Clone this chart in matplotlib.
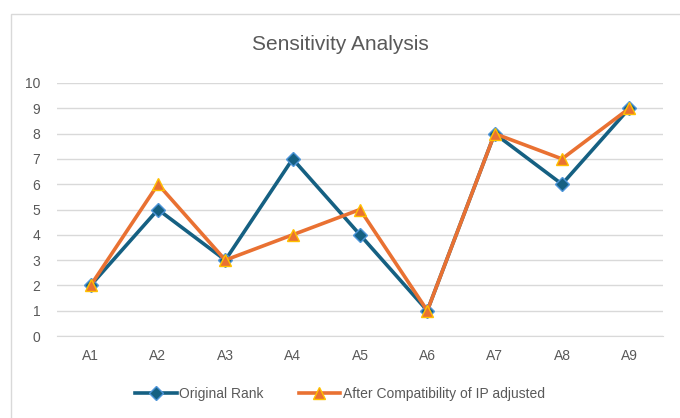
import matplotlib
matplotlib.use("Agg")
import matplotlib.pyplot as plt
from matplotlib.patches import Rectangle

categories = ["A1", "A2", "A3", "A4", "A5", "A6", "A7", "A8", "A9"]
original_rank = [2, 5, 3, 7, 4, 1, 8, 6, 9]
after_adjusted = [2, 6, 3, 4, 5, 1, 8, 7, 9]

plt.rcParams['font.family'] = ['Liberation Sans', 'DejaVu Sans']

TEXT = "#595959"
BLUE = "#156082"
ORANGE = "#E97132"

fig = plt.figure(figsize=(6.8, 4.18), dpi=100)
# chart frame, cut off at the right and bottom like the reference
fig.patches.append(Rectangle((11 / 680, -20 / 418), 700 / 680, 424 / 418,
                             transform=fig.transFigure, fill=False,
                             edgecolor="#D9D9D9", linewidth=1.0))
ax = fig.add_axes([57 / 680, 1 - 336 / 418, 606 / 680, 253 / 418])

x = list(range(len(categories)))
ax.plot(x, original_rank, color=BLUE, linewidth=2.6, marker="D", markersize=7,
        markerfacecolor=BLUE, markeredgecolor="#4E95D9", markeredgewidth=1,
        label="Original Rank", zorder=3)
ax.plot(x, after_adjusted, color=ORANGE, linewidth=2.6, marker="^", markersize=9,
        markerfacecolor=ORANGE, markeredgecolor="#FFC000", markeredgewidth=1,
        label="After Compatibility of IP adjusted", zorder=4)

ax.set_xlim(-0.5, 8.5)
ax.set_ylim(0, 10)
ax.set_yticks(range(0, 11))
ax.set_xticks(x)
ax.set_xticklabels(categories)
ax.grid(axis="y", color="#D9D9D9", linewidth=1)
ax.set_axisbelow(True)
for s in ["top", "right", "left"]:
    ax.spines[s].set_visible(False)
ax.spines["bottom"].set_color("#D9D9D9")
ax.tick_params(length=0, labelsize=10, colors=TEXT)
ax.tick_params(axis="x", pad=9)
ax.tick_params(axis="y", pad=12)

fig.text(0.5, 1 - 45 / 418, "Sensitivity Analysis", ha="center", va="center",
         fontsize=15, color=TEXT)

fig.legend(loc="center", bbox_to_anchor=(0.5, 1 - 394 / 418), ncol=2, frameon=False,
           fontsize=10, labelcolor=TEXT, handlelength=3.0, handletextpad=0.2,
           columnspacing=2.5)

fig.savefig("out.png", dpi=100)
